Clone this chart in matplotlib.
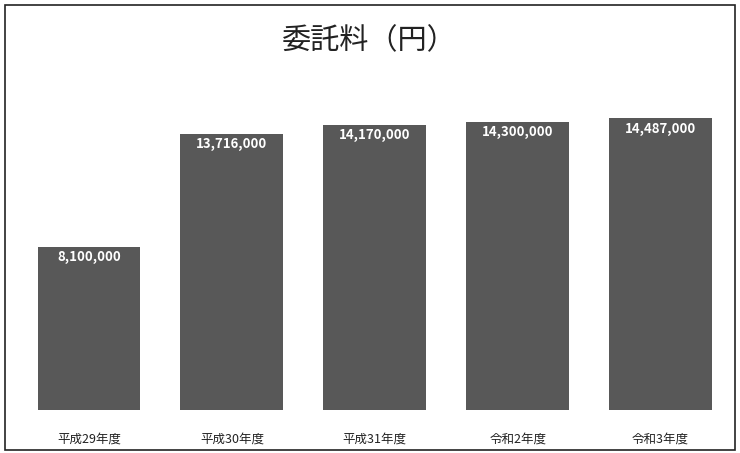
import matplotlib
matplotlib.use("Agg")
import matplotlib.pyplot as plt
from matplotlib.patches import Rectangle

plt.rcParams['font.family'] = ['Noto Sans CJK JP', 'DejaVu Sans']

categories = ['平成29年度', '平成30年度', '平成31年度', '令和2年度', '令和3年度']
values = [8100000, 13716000, 14170000, 14300000, 14487000]
title = '委託料（円）'

fig = plt.figure(figsize=(7.4, 4.53), dpi=100)
fig.patches.append(Rectangle((5/740, 3/453), 730/740, 445/453, transform=fig.transFigure,
                             fill=False, edgecolor='#222222', linewidth=1.2))
ax = fig.add_axes([17.5/740, 43/453, 714.5/740, 322/453])
x = range(len(categories))
bars = ax.bar(x, values, width=0.72, color='#585858')
for xi, v in zip(x, values):
    ax.text(xi, v - 500000, f'{v:,}', ha='center', va='center', color='white',
            fontsize=9.5, fontweight='bold')
ax.set_xlim(-0.5, 4.5)
ax.set_ylim(0, 16000000)
ax.set_xticks(list(x))
ax.set_xticklabels(categories, fontsize=9, color='#222222')
ax.tick_params(axis='x', length=0, pad=16)
ax.set_yticks([])
for s in ax.spines.values():
    s.set_visible(False)
fig.text(369/740, 1 - 41/453, title, ha='center', va='center', fontsize=21, color='#222222')
fig.savefig('out.png', dpi=100)
